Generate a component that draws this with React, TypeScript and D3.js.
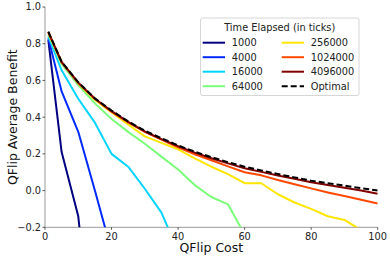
import React from "react";
import * as d3 from "d3";

// x positions where the curves were sampled
const costs = [1, 5, 10, 15, 20, 25, 30, 35, 40, 45, 50, 55, 60, 65, 70, 75, 80, 85, 90, 95, 100];

const labels = ["1000", "4000", "16000", "64000", "256000", "1024000", "4096000"];
const colors = ["#000080", "#002aff", "#00d4ff", "#7bff7b", "#ffe600", "#ff4900", "#800000"];

const t1000 = [0.82, 0.21, -0.14, -1.0];
const t4000 = [0.83, 0.54, 0.32, 0.0, -0.33];
const t16000 = [0.84, 0.655, 0.5, 0.37, 0.2, 0.13, 0.01, -0.12, -0.33];
const t64000 = [0.85, 0.69, 0.575, 0.475, 0.39, 0.32, 0.255, 0.185, 0.115, 0.03, -0.035, -0.075, -0.24];
const t256000 = [0.86, 0.7, 0.585, 0.495, 0.425, 0.36, 0.295, 0.26, 0.225, 0.175, 0.13, 0.09, 0.04, 0.04, -0.02, -0.065, -0.1, -0.14, -0.16, -0.215, -0.27];
const t1024000 = [0.86, 0.7, 0.585, 0.5, 0.43, 0.372, 0.32, 0.278, 0.236, 0.198, 0.165, 0.132, 0.1, 0.083, 0.058, 0.035, 0.012, -0.01, -0.03, -0.05, -0.07];
const t4096000 = [0.865, 0.7, 0.588, 0.5, 0.433, 0.374, 0.322, 0.28, 0.242, 0.207, 0.176, 0.148, 0.122, 0.102, 0.082, 0.065, 0.045, 0.03, 0.015, 0.0, -0.017];
const optimal = [0.866, 0.702, 0.59, 0.502, 0.436, 0.377, 0.326, 0.285, 0.246, 0.212, 0.182, 0.155, 0.13, 0.11, 0.09, 0.072, 0.054, 0.04, 0.027, 0.013, 0.0];

const series = [t1000, t4000, t16000, t64000, t256000, t1024000, t4096000];

const xTicks = [0, 20, 40, 60, 80, 100];
const yTicks = [-0.2, 0.0, 0.2, 0.4, 0.6, 0.8, 1.0];

const width = 390;
const height = 258;
const margin = { top: 7, right: 12.3, bottom: 30.7, left: 45 };
const font = "DejaVu Sans, sans-serif";

const App = () => {
	const x = d3.scaleLinear().domain([0, 100]).range([margin.left, width - margin.right]);
	const y = d3.scaleLinear().domain([-0.2, 1.0]).range([height - margin.bottom, margin.top]);

	const line = d3.line<number>()
		.x((d, i) => x(costs[i]))
		.y(d => y(d));

	const fmt = (v: number) => (v < 0 ? "\u2212" : "") + Math.abs(v).toFixed(1);

	// legend layout
	const lg = { x: 200.5, y: 18, w: 158.5, h: 77.5 };
	const rowY = (r: number) => 42.7 + r * 14.5;
	const legendItems = labels.map((l, i) => ({ label: l, color: colors[i], dash: false }))
		.concat([{ label: "Optimal", color: "#000", dash: true }]);

	return (
		<svg width={width} height={height} style={{ position: "absolute", left: 0, top: 0 }} fontFamily={font}>
			<defs>
				<clipPath id="plot">
					<rect x={margin.left} y={margin.top} width={width - margin.left - margin.right} height={height - margin.top - margin.bottom} />
				</clipPath>
			</defs>

			{/* spines */}
			<line x1={margin.left} x2={margin.left} y1={margin.top} y2={height - margin.bottom} stroke="#999" strokeWidth={1} />
			<line x1={margin.left} x2={width - margin.right} y1={height - margin.bottom} y2={height - margin.bottom} stroke="#999" strokeWidth={1} />

			{/* y ticks */}
			{yTicks.map(t => (
				<g key={"y" + t}>
					<line x1={margin.left - 2.5} x2={margin.left} y1={y(t)} y2={y(t)} stroke="#333" strokeWidth={0.8} />
					<text x={margin.left - 4} y={y(t)} dy="0.35em" textAnchor="end" fontSize={9.8} fill="#222">{fmt(t)}</text>
				</g>
			))}

			{/* x ticks */}
			{xTicks.map(t => (
				<g key={"x" + t}>
					<line x1={x(t)} x2={x(t)} y1={height - margin.bottom} y2={height - margin.bottom + 2.5} stroke="#333" strokeWidth={0.8} />
					<text x={x(t)} y={height - margin.bottom + 12.5} textAnchor="middle" fontSize={9.8} fill="#222">{t}</text>
				</g>
			))}

			<text x={(margin.left + width - margin.right) / 2} y={251.5} textAnchor="middle" fontSize={12.5} fill="#111">QFlip Cost</text>
			<text transform={`translate(16.5, ${(margin.top + height - margin.bottom) / 2}) rotate(-90)`} textAnchor="middle" fontSize={12.5} fill="#111">QFlip Average Benefit</text>

			<g clipPath="url(#plot)">
				{series.map((s, i) => (
					<path key={labels[i]} d={line(s) || ""} fill="none" stroke={colors[i]} strokeWidth={2} strokeLinejoin="round" />
				))}
				<path d={line(optimal) || ""} fill="none" stroke="#000" strokeWidth={2} strokeDasharray="6,3" />
			</g>

			{/* legend */}
			<g>
				<rect x={lg.x} y={lg.y} width={lg.w} height={lg.h} rx={2} fill="#fff" fillOpacity={0.85} stroke="#ccc" strokeWidth={0.8} />
				<text x={lg.x + lg.w / 2} y={30.5} textAnchor="middle" fontSize={9.8} fill="#222">Time Elapsed (in ticks)</text>
				{legendItems.map((it, i) => {
					const col = Math.floor(i / 4);
					const r = i % 4;
					const lx = col === 0 ? 202.7 : 281.7;
					return (
						<g key={it.label}>
							<line x1={lx} x2={lx + 22.3} y1={rowY(r)} y2={rowY(r)} stroke={it.color} strokeWidth={2} strokeDasharray={it.dash ? "6,3" : undefined} />
							<text x={lx + 29} y={rowY(r)} dy="0.35em" fontSize={9.8} fill="#222">{it.label}</text>
						</g>
					);
				})}
			</g>
		</svg>
	);
};

export default App;
